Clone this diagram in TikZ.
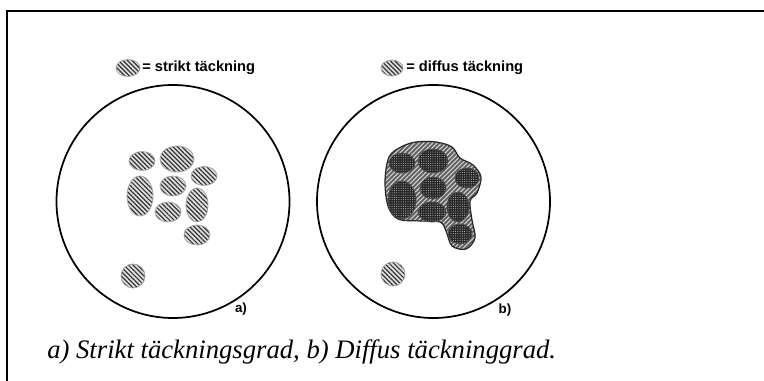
\documentclass[tikz,border=0pt]{standalone}
\usepackage{fontspec}
\setmainfont{Liberation Serif}
\setsansfont{Liberation Sans}
\usetikzlibrary{patterns.meta}
\begin{document}
\begin{tikzpicture}[x=0.75pt,y=-0.75pt,
  frame/.style={line width=1.9pt},
  bigcircle/.style={line width=1.3pt},
  strict/.style={draw=gray!70, line width=0.6pt, preaction={fill=gray!25},
    pattern={Lines[angle=-45,distance=2.4pt,line width=0.9pt]}, pattern color=gray!40!black},
  blobfill/.style={draw=black!85, line width=0.9pt, preaction={fill=gray!75!black},
    pattern={Lines[angle=45,distance=2.4pt,line width=0.8pt]}, pattern color=gray!35},
  dense/.style={draw=black!70, line width=0.6pt, preaction={fill=gray!30!black},
    pattern={Dots[distance=1.7pt,radius=0.4pt]}, pattern color=gray!55},
  legend/.style={font=\sffamily\bfseries\fontsize{11}{13}\selectfont, anchor=west, inner sep=0pt},
  lbl/.style={font=\sffamily\bfseries\fontsize{10}{12}\selectfont, inner sep=0pt},
  caption/.style={font=\itshape\fontsize{20}{24}\selectfont, anchor=base west, inner sep=0pt}]
\useasboundingbox (0,0) rectangle (764,381);
\fill[white] (0,0) rectangle (764,381);
% frame
\draw[frame] (7,381) -- (7,11) -- (764,11);
% legends
\path[strict] (128,68) ellipse [x radius=12, y radius=8.5];
\node[legend] (la) at (142,68) {= strikt täckning};
\path[strict] (392,68) ellipse [x radius=11, y radius=8];
\node[legend] (lb) at (406,68) {= diffus täckning};
% circle a
\draw[bigcircle] (173,201.5) circle [radius=116.5];
\path[strict] (142,161) ellipse [x radius=13, y radius=9.5];
\path[strict] (177,159) ellipse [x radius=17, y radius=13];
\path[strict] (204,176) ellipse [x radius=13, y radius=9.5];
\path[strict] (140,196) ellipse [x radius=13, y radius=20];
\path[strict] (173,186) ellipse [x radius=13, y radius=10];
\path[strict] (168,212) ellipse [x radius=13, y radius=10];
\path[strict] (197,205) ellipse [x radius=11, y radius=17];
\path[strict] (197,235) ellipse [x radius=13, y radius=10];
\path[strict] (133,276) circle [radius=12];
\node[lbl] (a) at (241,309) {a)};
% circle b
\draw[bigcircle] (433.5,201.5) circle [radius=116.5];
\path[blobfill] plot[smooth cycle, tension=0.55] coordinates {
  (389,157) (401,147) (416,142) (436,142) (452,147) (460,158) (473,165)
  (481,177) (477,193) (470,201) (472,220) (475,238) (466,249) (452,246)
  (446,231) (440,222) (420,221) (398,219) (388,206) (385,181)};
\path[dense] (402,163) ellipse [x radius=13, y radius=10];
\path[dense] (433,161) ellipse [x radius=15, y radius=12];
\path[dense] (467,178) ellipse [x radius=12, y radius=10];
\path[dense] (402,200) ellipse [x radius=14, y radius=19];
\path[dense] (433,188) ellipse [x radius=13, y radius=11];
\path[dense] (432,212) ellipse [x radius=14, y radius=10];
\path[dense] (458,207) ellipse [x radius=11, y radius=15];
\path[dense] (460,234) ellipse [x radius=12, y radius=10];
\path[strict] (393,274) circle [radius=12];
\node[lbl] (b) at (505,310) {b)};
% caption
\node[caption] (cap) at (47,358) {a) Strikt täckningsgrad, b) Diffus täckninggrad.};
\end{tikzpicture}
\end{document}
